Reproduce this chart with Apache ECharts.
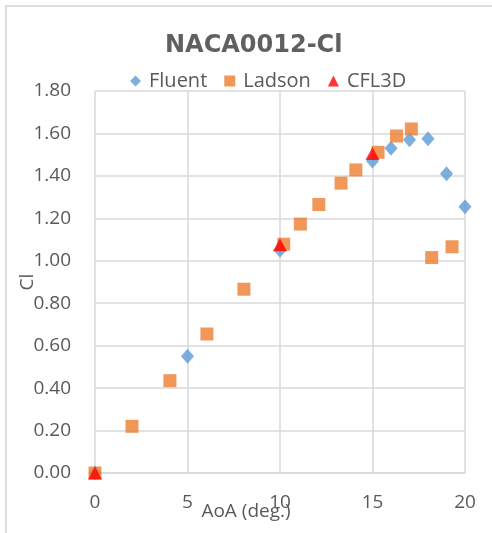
<!DOCTYPE html>
<html>
<head>
<meta charset="utf-8">
<style>
  html, body { margin: 0; padding: 0; background: #ffffff; }
  #chart { width: 492px; height: 533px; }
</style>
<script src="https://cdn.jsdelivr.net/npm/echarts@6/dist/echarts.min.js"></script>
</head>
<body>
<div id="chart"></div>
<script>
// Lift coefficient vs angle of attack, NACA 0012
const fluentAoA = [0, 5, 10, 15, 16, 17, 18, 19, 20];
const fluentCl  = [0.00, 0.55, 1.05, 1.47, 1.53, 1.57, 1.575, 1.41, 1.255];

const ladsonAoA = [0, 2.0, 4.05, 6.05, 8.05, 10.2, 11.1, 12.1, 13.3, 14.1, 15.3, 16.3, 17.1, 18.2, 19.3];
const ladsonCl  = [0.00, 0.22, 0.435, 0.655, 0.866, 1.078, 1.173, 1.265, 1.366, 1.428, 1.511, 1.588, 1.621, 1.015, 1.066];

const cfl3dAoA = [0, 10, 15];
const cfl3dCl  = [0.00, 1.075, 1.506];

const yTicks = { min: 0, max: 1.8, step: 0.2 };
const xTicks = { min: 0, max: 20, step: 5 };

const pairs = (xs, ys) => xs.map((x, i) => [x, ys[i]]);

const textColor = '#595959';
const gridColor = '#d9d9d9';
const font = 'Open Sans';

const chart = echarts.init(document.getElementById('chart'), null, { renderer: 'canvas' });

chart.setOption({
  backgroundColor: '#ffffff',
  animation: false,
  graphic: [{
    type: 'rect',
    shape: { x: 6, y: 6, width: 520, height: 560 },
    style: { fill: 'none', stroke: '#d4d4d4', lineWidth: 1.5 },
    silent: true
  }],
  title: {
    text: 'NACA0012-Cl',
    left: 160,
    top: 29,
    textStyle: {
      fontFamily: 'DejaVu Sans',
      fontWeight: 'bold',
      fontSize: 24,
      color: '#606060'
    }
  },
  legend: {
    top: 66,
    left: 125,
    itemGap: 17,
    itemWidth: 11,
    itemHeight: 11,
    textStyle: { fontFamily: font, fontSize: 20, color: textColor, padding: [0, 0, 0, 3] },
    data: [
      { name: 'Fluent', icon: 'diamond' },
      { name: 'Ladson', icon: 'rect' },
      { name: 'CFL3D', icon: 'triangle' }
    ]
  },
  grid: { left: 95, right: 27, top: 91, bottom: 60, containLabel: false, outerBoundsMode: 'none' },
  xAxis: {
    type: 'value',
    min: xTicks.min,
    max: xTicks.max,
    interval: xTicks.step,
    name: 'AoA (deg.)',
    nameLocation: 'middle',
    nameGap: 29,
    nameMoveOverlap: false,
    nameTextStyle: { fontFamily: font, fontSize: 19, color: textColor, padding: [0, 68, 0, 0] },
    axisLine: { show: true, lineStyle: { color: gridColor, width: 1.5 } },
    axisTick: { show: false },
    axisLabel: { fontFamily: font, fontSize: 19, color: textColor, margin: 20 },
    splitLine: { show: true, lineStyle: { color: gridColor, width: 1.5 } }
  },
  yAxis: {
    type: 'value',
    min: yTicks.min,
    max: yTicks.max,
    interval: yTicks.step,
    name: 'Cl',
    nameLocation: 'middle',
    nameGap: 58,
    nameMoveOverlap: false,
    nameTextStyle: { fontFamily: font, fontSize: 19, color: textColor },
    axisLine: { show: false },
    axisTick: { show: false },
    axisLabel: {
      fontFamily: font, fontSize: 19, color: textColor, margin: 24,
      formatter: v => v.toFixed(2)
    },
    splitLine: { show: true, lineStyle: { color: gridColor, width: 1.5 } }
  },
  series: [
    {
      name: 'Fluent',
      type: 'scatter',
      symbol: 'diamond',
      symbolSize: [13, 15],
      itemStyle: { color: '#5B9BD5' },
      data: pairs(fluentAoA, fluentCl),
      z: 2
    },
    {
      name: 'Ladson',
      type: 'scatter',
      symbol: 'rect',
      symbolSize: 13,
      itemStyle: { color: '#ED7D31' },
      data: pairs(ladsonAoA, ladsonCl),
      z: 3
    },
    {
      name: 'CFL3D',
      type: 'scatter',
      symbol: 'triangle',
      symbolSize: [14, 13],
      itemStyle: { color: '#FF0000' },
      data: pairs(cfl3dAoA, cfl3dCl),
      z: 4
    }
  ]
});
</script>
</body>
</html>
